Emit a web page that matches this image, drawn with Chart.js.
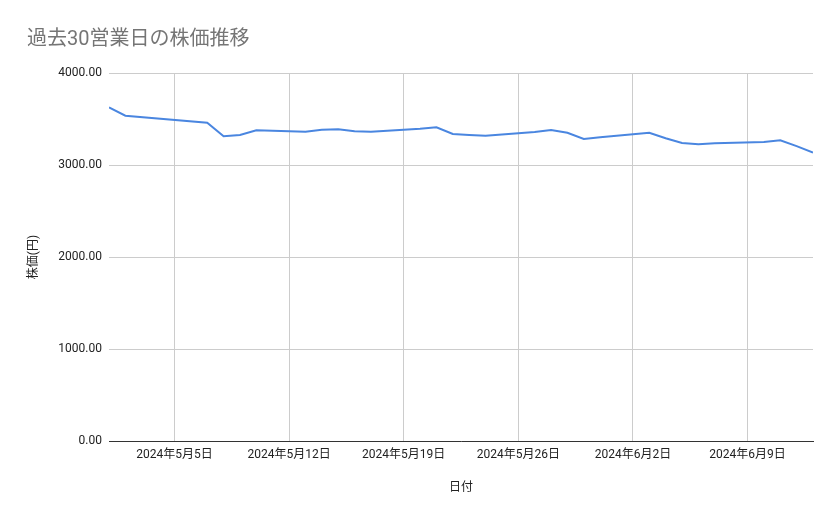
<!DOCTYPE html>
<html>
<head>
<meta charset="utf-8">
<script src="https://cdn.jsdelivr.net/npm/chart.js@4/dist/chart.umd.min.js"></script>
<style>
  html, body { margin: 0; padding: 0; background: #fff; }
  #wrap { width: 839px; height: 519px; }
</style>
</head>
<body>
<div id="wrap"><canvas id="stockChart" width="839" height="519"></canvas></div>
<script>
const dates = [
    "2024-05-01", "2024-05-02", "2024-05-07", "2024-05-08", "2024-05-09", "2024-05-10",
    "2024-05-13", "2024-05-14", "2024-05-15", "2024-05-16", "2024-05-17",
    "2024-05-20", "2024-05-21", "2024-05-22", "2024-05-23", "2024-05-24",
    "2024-05-27", "2024-05-28", "2024-05-29", "2024-05-30", "2024-05-31",
    "2024-06-03", "2024-06-04", "2024-06-05", "2024-06-06", "2024-06-07",
    "2024-06-10", "2024-06-11", "2024-06-12", "2024-06-13"
];
const prices = [
    3625, 3536, 3460, 3312, 3326, 3377,
    3362, 3384, 3388, 3366, 3362,
    3395, 3410, 3337, 3326, 3318,
    3359, 3380, 3351, 3283, 3301,
    3351, 3290, 3239, 3225, 3236,
    3250, 3268, 3205, 3136
];
const tickDates = ["2024-05-05", "2024-05-12", "2024-05-19", "2024-05-26", "2024-06-02", "2024-06-09"];
const tickLabels = ["2024年5月5日", "2024年5月12日", "2024年5月19日", "2024年5月26日", "2024年6月2日", "2024年6月9日"];
const yTicks = [0, 1000, 2000, 3000, 4000];
const startDate = "2024-05-01";
const endDate = "2024-06-13";

// days since the first date, used as x position
function dayIndex(d) {
    return (Date.parse(d) - Date.parse(startDate)) / 86400000;
}

const fontFamily = "Roboto, 'Noto Sans CJK JP', sans-serif";
const tickDays = tickDates.map(dayIndex);

const points = dates.map((d, i) => ({ x: dayIndex(d), y: prices[i] }));

const ctx = document.getElementById("stockChart").getContext("2d");
new Chart(ctx, {
    type: "line",
    data: {
        datasets: [{
            label: "株価",
            data: points,
            borderColor: "#4a86e0",
            borderWidth: 2,
            pointRadius: 0,
            tension: 0,
            fill: false
        }]
    },
    options: {
        responsive: false,
        animation: false,
        devicePixelRatio: 1,
        layout: {
            padding: { left: 27, right: 26, top: 28, bottom: 20 }
        },
        plugins: {
            legend: { display: false },
            tooltip: { enabled: false },
            title: {
                display: true,
                text: "過去30営業日の株価推移",
                align: "start",
                color: "#757575",
                font: { family: fontFamily, size: 20, weight: "normal" },
                padding: { top: 0, bottom: 21 }
            }
        },
        scales: {
            x: {
                type: "linear",
                min: dayIndex(startDate),
                max: dayIndex(endDate),
                afterBuildTicks: (scale) => {
                    scale.ticks = tickDays.map((v) => ({ value: v }));
                },
                afterFit: (scale) => {
                    scale.height = 58;
                },
                ticks: {
                    autoSkip: false,
                    maxRotation: 0,
                    padding: 7,
                    color: "#222",
                    font: { family: fontFamily, size: 12 },
                    callback: (value) => {
                        const i = tickDays.indexOf(value);
                        return i >= 0 ? tickLabels[i] : "";
                    }
                },
                grid: {
                    color: "#cccccc",
                    drawTicks: false
                },
                border: { display: true, color: "#333", width: 1 },
                title: {
                    display: true,
                    text: "日付",
                    color: "#222",
                    font: { family: fontFamily, size: 12 },
                    padding: { top: 0, bottom: 4 }
                }
            },
            y: {
                min: 0,
                max: 4000,
                afterBuildTicks: (scale) => {
                    scale.ticks = yTicks.map((v) => ({ value: v }));
                },
                afterFit: (scale) => {
                    scale.width = 82;
                },
                ticks: {
                    padding: 7,
                    color: "#222",
                    font: { family: fontFamily, size: 12 },
                    callback: (value) => Number(value).toFixed(2)
                },
                grid: {
                    color: "#cccccc",
                    drawTicks: false
                },
                border: { display: false },
                title: {
                    display: true,
                    text: "株価(円)",
                    color: "#222",
                    font: { family: fontFamily, size: 12 },
                    padding: { top: 0, bottom: 0 }
                }
            }
        }
    }
});
</script>
</body>
</html>
